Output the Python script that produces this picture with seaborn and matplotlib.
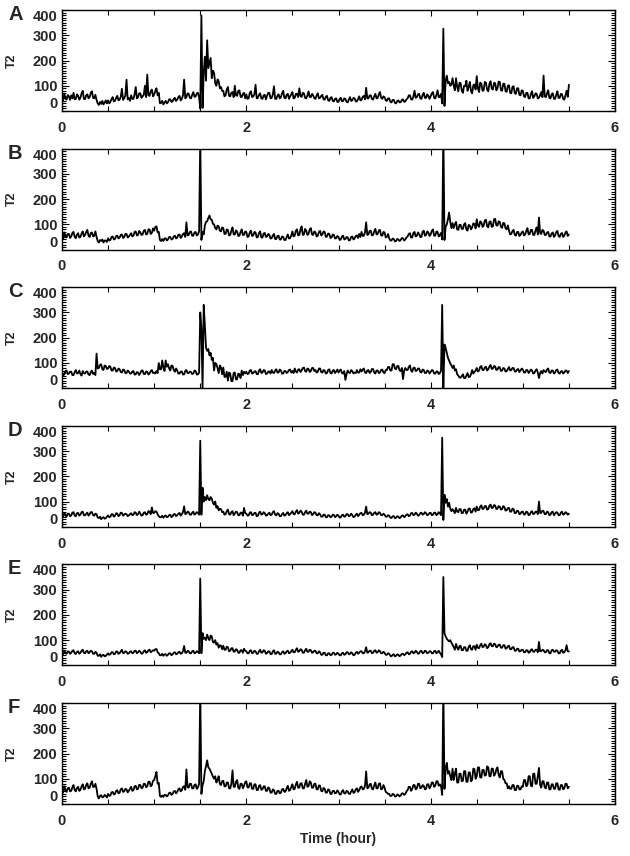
import numpy as np
import pandas as pd
import seaborn as sns
import matplotlib
matplotlib.use("Agg")
import matplotlib.pyplot as plt
from matplotlib.ticker import MultipleLocator

# ---------------- data ----------------
panel_labels = ["A", "B", "C", "D", "E", "F"]
x_ticks = [0, 2, 4, 6]
y_ticks = [0, 100, 200, 300, 400]
time_start, time_end = 0.0, 5.5   # hours, evenly sampled

t2_a = [
    55, 42, 68, 50, 45, 63, 58, 44, 62, 50, 72, 46, 48, 66, 60, 45, 52, 70, 80, 48,
    47, 62, 66, 50, 55, 72, 78, 52, 50, 64, 44, 30, 24, 36, 28, 40, 26, 33, 42, 30,
    42, 30, 36, 48, 55, 38, 40, 52, 60, 42, 45, 56, 88, 44, 50, 62, 124, 46, 52, 40,
    62, 48, 48, 66, 95, 50, 55, 70, 70, 52, 58, 64, 100, 55, 144, 62, 60, 78, 85, 58,
    65, 80, 90, 62, 72, 30, 32, 40, 26, 34, 40, 30, 35, 46, 46, 36, 38, 48, 52, 40,
    45, 55, 60, 42, 48, 62, 124, 50, 55, 70, 68, 52, 50, 64, 75, 56, 58, 70, 72, 55,
    10, 378, 12, 150, 215, 120, 280, 170, 190, 210, 130, 160, 150, 110, 100, 125, 118, 90, 95, 80,
    80, 58, 62, 85, 95, 60, 58, 72, 75, 55, 100, 62, 60, 80, 82, 56, 55, 68, 72, 50,
    66, 48, 50, 72, 78, 55, 58, 66, 104, 50, 52, 64, 70, 50, 48, 62, 64, 46, 60, 72,
    72, 50, 52, 66, 98, 48, 48, 60, 66, 50, 55, 70, 80, 52, 50, 64, 68, 48, 58, 66,
    75, 50, 52, 68, 68, 55, 90, 60, 56, 72, 70, 52, 50, 62, 78, 56, 55, 68, 62, 50,
    48, 62, 70, 50, 52, 60, 64, 46, 45, 56, 60, 42, 40, 52, 55, 40, 38, 48, 50, 36,
    36, 48, 52, 38, 40, 50, 48, 36, 34, 46, 55, 40, 42, 52, 50, 38, 38, 48, 58, 42,
    44, 56, 60, 46, 92, 50, 50, 62, 62, 48, 45, 58, 68, 50, 52, 66, 75, 52, 48, 58,
    55, 42, 40, 50, 50, 36, 34, 44, 44, 32, 30, 40, 42, 34, 35, 44, 46, 36, 38, 46,
    50, 62, 62, 46, 45, 58, 80, 52, 55, 66, 68, 50, 48, 64, 72, 52, 52, 66, 60, 48,
    58, 70, 75, 52, 50, 64, 82, 54, 56, 68, 30, 326, 20, 120, 140, 110, 115, 100, 105, 130,
    100, 82, 130, 95, 78, 112, 110, 80, 72, 100, 98, 120, 80, 95, 115, 78, 70, 102, 105, 85,
    138, 90, 75, 112, 108, 80, 82, 115, 112, 85, 78, 108, 118, 88, 85, 112, 110, 82, 90, 116,
    115, 82, 80, 108, 108, 78, 76, 100, 102, 72, 70, 96, 98, 70, 68, 90, 90, 64, 62, 82,
    80, 58, 55, 72, 72, 50, 50, 68, 78, 52, 58, 70, 68, 50, 52, 64, 75, 55, 140, 58,
    55, 70, 82, 52, 50, 66, 70, 48, 48, 64, 78, 52, 52, 68, 66, 48, 45, 62, 80, 56,
    104,
]

t2_b = [
    55, 44, 68, 52, 48, 62, 62, 46, 52, 66, 70, 50, 45, 60, 65, 48, 50, 64, 72, 52,
    58, 70, 78, 55, 50, 66, 68, 52, 55, 72, 50, 34, 28, 38, 34, 40, 28, 36, 36, 30,
    45, 36, 38, 50, 52, 40, 42, 54, 55, 44, 48, 58, 60, 46, 50, 62, 62, 48, 52, 58,
    65, 52, 55, 70, 72, 56, 58, 74, 68, 58, 60, 75, 78, 60, 62, 80, 80, 62, 66, 84,
    75, 90, 92, 68, 70, 38, 34, 42, 34, 44, 45, 36, 40, 50, 50, 40, 42, 52, 55, 44,
    48, 58, 60, 46, 52, 62, 65, 50, 108, 56, 58, 70, 72, 55, 55, 68, 70, 56, 60, 72,
    440, 38, 70, 60, 95, 110, 112, 125, 135, 120, 118, 102, 100, 85, 80, 95, 92, 75, 72, 88,
    85, 62, 62, 80, 78, 56, 58, 75, 88, 60, 60, 76, 72, 54, 55, 70, 80, 58, 58, 72,
    70, 50, 52, 68, 75, 54, 56, 70, 68, 48, 50, 66, 72, 48, 48, 64, 66, 50, 52, 62,
    58, 44, 45, 56, 62, 42, 42, 54, 55, 40, 40, 52, 50, 38, 38, 50, 60, 44, 45, 56,
    72, 52, 55, 75, 80, 56, 58, 80, 92, 58, 60, 82, 75, 58, 62, 80, 85, 60, 58, 72,
    68, 52, 55, 70, 74, 56, 60, 72, 70, 50, 52, 64, 62, 46, 48, 60, 58, 44, 45, 54,
    50, 38, 40, 52, 55, 40, 42, 50, 48, 36, 38, 50, 52, 40, 44, 54, 56, 46, 62, 50,
    70, 54, 55, 68, 108, 58, 60, 74, 75, 56, 58, 72, 82, 60, 62, 76, 78, 56, 55, 70,
    68, 48, 50, 62, 45, 36, 36, 44, 42, 32, 34, 42, 40, 34, 38, 46, 45, 36, 40, 48,
    52, 62, 65, 48, 48, 66, 70, 52, 55, 68, 62, 50, 50, 70, 75, 55, 58, 72, 68, 54,
    60, 74, 80, 55, 55, 72, 70, 52, 58, 66, 40, 470, 38, 90, 100, 120, 147, 110, 85, 105,
    85, 100, 110, 80, 78, 98, 98, 82, 82, 100, 105, 80, 75, 98, 95, 80, 88, 104, 102, 84,
    120, 95, 90, 112, 108, 90, 95, 116, 118, 92, 88, 110, 112, 90, 92, 120, 122, 96, 95, 112,
    110, 90, 86, 106, 104, 84, 80, 96, 75, 60, 62, 74, 78, 58, 55, 70, 70, 54, 58, 68,
    72, 56, 60, 74, 85, 60, 62, 78, 78, 58, 58, 76, 88, 60, 127, 66, 62, 78, 75, 58,
    58, 68, 70, 52, 52, 64, 68, 50, 56, 70, 74, 54, 50, 62, 66, 50, 55, 68, 72, 54,
    60,
]

t2_c = [
    62, 50, 55, 68, 70, 56, 58, 66, 65, 52, 52, 64, 72, 58, 60, 70, 56, 50, 68, 60,
    58, 66, 66, 54, 52, 64, 70, 56, 60, 52, 137, 78, 80, 92, 95, 75, 72, 90, 88, 76,
    78, 88, 85, 70, 70, 82, 80, 66, 68, 78, 75, 64, 62, 74, 72, 60, 60, 70, 66, 58,
    58, 66, 68, 54, 55, 64, 62, 52, 60, 70, 70, 56, 56, 66, 65, 54, 58, 68, 72, 60,
    62, 58, 68, 60, 100, 75, 75, 110, 82, 68, 110, 85, 95, 78, 70, 90, 88, 72, 65, 78,
    70, 58, 58, 66, 66, 54, 55, 68, 72, 60, 60, 66, 64, 56, 58, 70, 68, 54, 55, 62,
    300, 240, 0, 330, 250, 160, 148, 155, 130, 140, 112, 120, 70, 100, 95, 80, 60, 90, 82, 55,
    82, 45, 45, 65, 30, 62, 58, 28, 28, 60, 62, 35, 35, 58, 55, 40, 70, 52, 65, 58,
    65, 56, 58, 70, 72, 58, 60, 66, 68, 56, 55, 70, 75, 60, 62, 72, 70, 56, 58, 66,
    66, 58, 72, 62, 60, 70, 75, 62, 62, 74, 70, 58, 58, 68, 68, 60, 64, 72, 74, 62,
    68, 60, 78, 66, 62, 74, 75, 64, 70, 80, 82, 68, 65, 78, 76, 64, 68, 80, 80, 68,
    72, 62, 65, 78, 78, 64, 62, 72, 70, 58, 60, 72, 75, 60, 58, 70, 72, 60, 66, 74,
    62, 70, 74, 60, 58, 68, 33, 56, 70, 62, 60, 72, 68, 58, 62, 60, 72, 62, 62, 75,
    66, 74, 78, 62, 60, 70, 72, 60, 64, 76, 76, 62, 58, 70, 70, 60, 62, 72, 74, 62,
    60, 72, 72, 84, 84, 70, 70, 95, 95, 78, 75, 88, 88, 70, 68, 80, 36, 70, 80, 72,
    72, 84, 90, 70, 65, 80, 82, 68, 70, 78, 78, 64, 62, 74, 72, 60, 60, 70, 68, 58,
    64, 72, 70, 58, 58, 66, 66, 56, 60, 70, 330, 0, 173, 160, 140, 120, 110, 98, 90, 80,
    90, 70, 75, 55, 50, 42, 42, 48, 55, 40, 40, 50, 60, 44, 45, 55, 72, 58, 65, 70,
    80, 66, 70, 84, 88, 72, 72, 82, 85, 70, 75, 86, 92, 76, 78, 88, 86, 72, 74, 84,
    82, 68, 70, 80, 78, 66, 68, 76, 84, 70, 72, 80, 80, 66, 66, 74, 76, 64, 70, 78,
    74, 62, 62, 72, 72, 60, 66, 74, 70, 58, 60, 70, 75, 62, 40, 60, 68, 58, 72, 66,
    64, 74, 78, 62, 60, 70, 70, 58, 62, 72, 74, 60, 58, 66, 68, 58, 62, 70, 70, 60,
    68,
]

t2_d = [
    48, 40, 55, 46, 40, 52, 52, 42, 45, 56, 58, 44, 42, 54, 55, 44, 48, 58, 60, 46,
    45, 52, 56, 44, 50, 58, 58, 46, 44, 52, 50, 36, 35, 40, 30, 36, 38, 32, 34, 40,
    45, 38, 40, 50, 50, 40, 44, 54, 52, 42, 46, 56, 55, 44, 48, 52, 50, 42, 45, 50,
    54, 46, 48, 58, 56, 46, 50, 60, 52, 44, 46, 56, 58, 48, 50, 62, 60, 50, 77, 55,
    55, 62, 60, 50, 42, 38, 38, 44, 36, 42, 45, 38, 40, 46, 48, 38, 42, 50, 50, 42,
    46, 52, 55, 44, 50, 58, 81, 50, 52, 60, 58, 48, 48, 56, 60, 48, 52, 58, 55, 48,
    341, 48, 155, 100, 118, 105, 125, 110, 105, 118, 112, 95, 88, 100, 75, 82, 65, 72, 70, 58,
    60, 48, 50, 62, 68, 50, 48, 58, 62, 46, 52, 60, 58, 46, 46, 56, 56, 44, 75, 54,
    52, 44, 45, 56, 58, 46, 48, 55, 55, 42, 44, 56, 60, 48, 50, 58, 54, 44, 46, 52,
    56, 46, 48, 58, 62, 48, 45, 54, 52, 42, 42, 50, 55, 44, 46, 54, 58, 46, 50, 56,
    62, 50, 50, 60, 66, 52, 55, 64, 60, 48, 48, 58, 64, 52, 52, 60, 58, 46, 50, 58,
    56, 46, 46, 54, 50, 40, 40, 48, 48, 38, 38, 46, 45, 38, 40, 48, 47, 38, 42, 48,
    44, 36, 38, 46, 48, 40, 42, 50, 50, 42, 44, 52, 46, 38, 40, 48, 52, 42, 48, 54,
    55, 46, 48, 56, 80, 50, 52, 58, 56, 46, 48, 56, 58, 48, 50, 58, 55, 46, 46, 52,
    48, 40, 40, 46, 44, 36, 35, 42, 42, 34, 36, 42, 40, 34, 38, 44, 45, 38, 42, 48,
    50, 42, 44, 54, 55, 46, 48, 56, 52, 44, 46, 54, 56, 48, 50, 58, 54, 46, 48, 55,
    55, 46, 48, 56, 56, 46, 50, 58, 54, 46, 353, 27, 127, 95, 110, 80, 95, 72, 62, 70,
    62, 54, 75, 60, 58, 70, 70, 54, 55, 68, 68, 52, 60, 72, 72, 56, 58, 70, 74, 60,
    80, 66, 66, 80, 85, 70, 72, 82, 82, 68, 70, 84, 88, 74, 76, 86, 84, 70, 72, 82,
    80, 68, 70, 82, 78, 64, 66, 74, 75, 60, 60, 72, 70, 54, 55, 64, 62, 50, 52, 60,
    60, 48, 50, 60, 58, 46, 48, 58, 62, 50, 52, 60, 60, 50, 100, 55, 55, 64, 62, 50,
    50, 60, 58, 46, 48, 58, 60, 46, 52, 58, 56, 46, 46, 56, 60, 48, 50, 58, 55, 48,
    52,
]

t2_e = [
    52, 44, 58, 50, 46, 55, 55, 46, 50, 58, 60, 48, 45, 54, 56, 46, 50, 58, 62, 50,
    48, 56, 58, 48, 52, 58, 56, 46, 46, 54, 50, 38, 38, 44, 34, 40, 42, 36, 38, 42,
    48, 42, 44, 52, 52, 44, 46, 55, 55, 46, 48, 56, 62, 48, 50, 56, 54, 46, 48, 54,
    56, 48, 50, 58, 58, 48, 52, 58, 54, 46, 48, 56, 60, 50, 52, 60, 62, 52, 56, 60,
    58, 64, 65, 52, 48, 40, 40, 46, 38, 44, 44, 38, 42, 48, 48, 40, 44, 50, 52, 44,
    46, 52, 54, 46, 48, 56, 77, 50, 50, 58, 56, 48, 48, 56, 58, 48, 50, 56, 54, 48,
    344, 48, 128, 105, 110, 100, 122, 108, 100, 118, 115, 92, 90, 100, 82, 88, 70, 80, 78, 64,
    78, 62, 62, 74, 72, 56, 58, 68, 68, 54, 55, 64, 62, 50, 50, 60, 60, 50, 66, 58,
    56, 48, 48, 58, 60, 48, 50, 58, 56, 46, 46, 56, 62, 50, 52, 60, 58, 46, 48, 56,
    55, 45, 45, 56, 60, 46, 46, 54, 52, 44, 44, 52, 56, 46, 48, 56, 58, 48, 50, 56,
    62, 52, 52, 62, 68, 54, 56, 64, 62, 50, 50, 60, 66, 54, 54, 62, 60, 50, 52, 58,
    58, 48, 48, 56, 52, 42, 42, 50, 50, 40, 40, 48, 48, 40, 42, 50, 50, 42, 44, 50,
    46, 40, 40, 48, 50, 42, 44, 52, 52, 44, 46, 52, 48, 40, 42, 50, 54, 46, 50, 56,
    56, 48, 48, 56, 72, 50, 52, 58, 58, 48, 50, 58, 60, 50, 52, 60, 56, 48, 48, 54,
    50, 42, 42, 48, 46, 38, 36, 42, 44, 36, 38, 44, 42, 36, 40, 46, 46, 40, 44, 50,
    52, 44, 46, 54, 56, 48, 50, 58, 54, 46, 48, 56, 58, 48, 50, 58, 56, 48, 50, 56,
    56, 48, 48, 56, 58, 48, 52, 58, 50, 44, 33, 350, 127, 115, 105, 100, 95, 100, 90, 82,
    72, 62, 85, 70, 62, 76, 78, 60, 60, 72, 72, 58, 58, 74, 80, 64, 62, 76, 76, 62,
    82, 70, 68, 80, 86, 72, 74, 84, 80, 68, 72, 84, 88, 76, 76, 86, 84, 72, 74, 82,
    82, 70, 70, 80, 80, 66, 68, 76, 78, 64, 64, 72, 72, 58, 58, 66, 66, 55, 56, 62,
    62, 52, 52, 60, 60, 50, 52, 62, 64, 54, 54, 62, 62, 52, 93, 56, 56, 62, 60, 52,
    52, 60, 60, 48, 48, 60, 62, 54, 54, 60, 58, 48, 48, 58, 62, 50, 52, 60, 80, 56,
    55,
]

t2_f = [
    55, 45, 70, 55, 48, 62, 65, 50, 52, 66, 75, 55, 50, 64, 68, 52, 56, 70, 78, 58,
    60, 76, 82, 62, 65, 80, 90, 68, 68, 80, 60, 30, 22, 32, 35, 26, 28, 36, 32, 26,
    40, 32, 34, 46, 48, 38, 40, 52, 55, 42, 45, 58, 62, 48, 50, 60, 58, 46, 52, 60,
    68, 52, 55, 70, 72, 58, 60, 76, 75, 62, 65, 80, 80, 66, 70, 88, 88, 70, 75, 92,
    95, 110, 127, 80, 84, 32, 28, 34, 28, 36, 36, 30, 34, 44, 45, 36, 40, 50, 52, 42,
    48, 58, 62, 50, 55, 68, 70, 56, 137, 66, 65, 80, 80, 62, 62, 76, 78, 60, 66, 80,
    450, 40, 75, 90, 130, 150, 173, 145, 140, 130, 120, 108, 100, 110, 85, 95, 110, 80, 75, 90,
    92, 70, 70, 85, 85, 62, 62, 80, 133, 68, 68, 88, 95, 64, 60, 80, 80, 62, 72, 86,
    90, 66, 65, 82, 82, 60, 60, 78, 78, 55, 55, 72, 75, 56, 58, 70, 70, 52, 52, 66,
    62, 45, 45, 58, 55, 40, 40, 52, 52, 42, 45, 58, 60, 48, 50, 62, 72, 52, 55, 68,
    78, 58, 60, 78, 88, 64, 65, 82, 82, 62, 62, 80, 95, 68, 70, 90, 85, 64, 65, 80,
    80, 58, 58, 74, 72, 52, 50, 64, 60, 45, 45, 58, 55, 40, 40, 52, 52, 42, 44, 54,
    48, 38, 38, 50, 55, 42, 42, 52, 50, 40, 40, 50, 58, 44, 46, 58, 62, 48, 55, 66,
    70, 58, 60, 72, 129, 62, 65, 78, 80, 60, 58, 74, 85, 62, 62, 80, 82, 58, 60, 75,
    65, 48, 45, 40, 40, 32, 32, 40, 38, 30, 30, 38, 36, 30, 34, 42, 42, 36, 40, 50,
    55, 68, 68, 52, 60, 75, 75, 58, 62, 80, 80, 62, 65, 75, 72, 58, 60, 78, 78, 62,
    70, 85, 85, 68, 72, 90, 90, 72, 78, 70, 36, 460, 60, 140, 163, 120, 130, 110, 95, 140,
    95, 120, 140, 85, 85, 120, 120, 90, 92, 130, 130, 88, 88, 125, 125, 90, 95, 140, 138, 100,
    110, 145, 145, 105, 105, 135, 135, 112, 115, 149, 145, 110, 110, 140, 140, 112, 118, 138, 145, 115,
    105, 130, 130, 100, 95, 82, 82, 62, 70, 60, 60, 75, 75, 55, 55, 72, 72, 58, 58, 70,
    68, 95, 95, 70, 75, 110, 110, 72, 70, 120, 120, 80, 80, 110, 143, 75, 65, 90, 90, 66,
    62, 85, 85, 58, 58, 78, 78, 60, 60, 82, 82, 58, 56, 75, 75, 58, 62, 80, 80, 62,
    68,
]

series = [t2_a, t2_b, t2_c, t2_d, t2_e, t2_f]
for s in series:
    assert len(s) == 441, len(s)

# ---------------- style ----------------
sns.set_style("ticks")
plt.rcParams["font.family"] = ["Liberation Sans", "DejaVu Sans"]
plt.rcParams["axes.linewidth"] = 1.0

W, H = 630, 856
fig = plt.figure(figsize=(W / 100, H / 100), dpi=100)

ax_left, ax_width, ax_height = 62, 553, 101
first_top, step = 10, 138.6

for i, (lab, vals) in enumerate(zip(panel_labels, series)):
    top = first_top + step * i
    ax = fig.add_axes([ax_left / W, 1 - (top + ax_height) / H, ax_width / W, ax_height / H])
    df = pd.DataFrame({"Time": np.linspace(time_start, time_end, len(vals)), "T2": vals})
    sns.lineplot(data=df, x="Time", y="T2", ax=ax, color="black", linewidth=1.3,
                 estimator=None, sort=False)
    ax.set_xlim(0, 6)
    ax.set_ylim(0, 400)
    ax.set_xticks(x_ticks)
    ax.set_yticks(y_ticks)
    ax.xaxis.set_minor_locator(MultipleLocator(0.5))
    ax.yaxis.set_minor_locator(MultipleLocator(10))
    ax.tick_params(which="both", direction="in", top=True, right=True, color="black", width=0.8)
    ax.tick_params(axis="y", which="major", length=5, pad=3.5, labelsize=10.5)
    ax.tick_params(axis="y", which="minor", length=3)
    ax.tick_params(axis="x", which="major", length=4, pad=7, labelsize=10.5)
    ax.tick_params(axis="x", which="minor", length=3.5)
    for t in ax.get_xticklabels() + ax.get_yticklabels():
        t.set_fontweight("bold")
    ylabs = ax.get_yticklabels()
    ylabs[0].set_va("bottom")
    ylabs[-1].set_va("top")
    ax.set_ylabel("T2", fontsize=9, fontweight="bold")
    ax.yaxis.set_label_coords(-0.080, 0.5)
    if i == len(series) - 1:
        ax.set_xlabel("Time (hour)", fontsize=10, fontweight="bold", labelpad=3)
    else:
        ax.set_xlabel("")
    for sp in ax.spines.values():
        sp.set_color("black")
        sp.set_linewidth(1.0)
    ax.text(-0.0975, 1 - 4.5 / ax_height, lab, transform=ax.transAxes,
            fontsize=14.5, fontweight="bold", ha="left", va="center")

fig.savefig("out.png", dpi=100)
